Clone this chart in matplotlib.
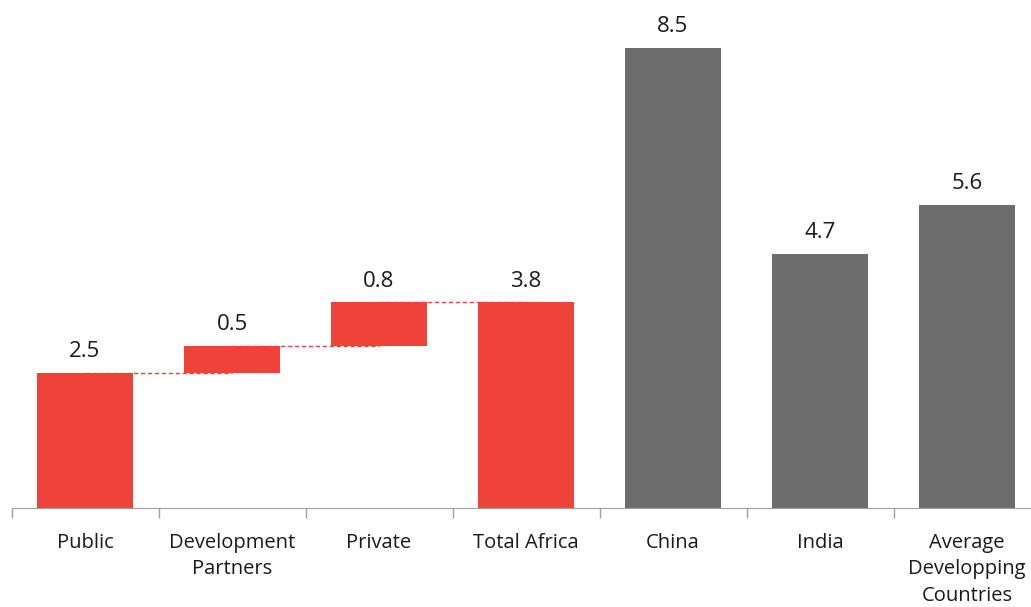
import numpy as np
import matplotlib.pyplot as plt

categories = ['Public', 'Development\nPartners', 'Private', 'Total Africa',
              'China', 'India', 'Average\nDevelopping\nCountries']
# waterfall steps for Africa, then the comparison totals
steps = [2.5, 0.5, 0.8]
total_africa = 3.8
others = [8.5, 4.7, 5.6]

red = '#EF4238'
grey = '#6D6D6D'
barWidth = 0.655

fig = plt.figure(figsize=(10.31, 6.07), dpi=100)
ax = fig.add_axes([11.5 / 1031, (607 - 508) / 607, 1029 / 1031, 508 / 607])

x = np.arange(len(categories))

# floating bars for the components
bottoms = np.concatenate([[0], np.cumsum(steps)[:-1]])
ax.bar(x[:3], steps, bottom=bottoms, width=barWidth, color=red)
ax.bar(x[3], total_africa, width=barWidth, color=red)
ax.bar(x[4:], others, width=barWidth, color=grey)

# dashed connectors between bar centres
levels = np.cumsum(steps)
for i, lvl in enumerate(levels):
    ax.plot([x[i], x[i + 1]], [lvl, lvl], color=red, lw=1, ls=(0, (3, 2)))

# value labels
tops = list(levels) + [total_africa] + others
vals = steps + [total_africa] + others
for xi, top, v in zip(x, tops, vals):
    ax.text(xi, top + 0.2, f'{v:.1f}', ha='center', va='bottom',
            fontsize=16, family='Open Sans', color='#1a1a1a')

ax.set_xlim(-0.5, len(categories) - 0.5)
ax.set_ylim(0, 9.39)
ax.set_yticks([])
ax.set_xticks(np.arange(len(categories) + 1) - 0.5, minor=False)
ax.set_xticklabels([])
ax.set_xticks(x, minor=True)
ax.set_xticklabels(categories, minor=True, fontsize=14.5, family='Open Sans',
                   linespacing=1.42, va='top', color='#1a1a1a')
ax.tick_params(axis='x', which='major', length=7, color='#A0A0A0', width=1)
ax.tick_params(axis='x', which='minor', length=0, pad=18)

for s in ['top', 'right', 'left']:
    ax.spines[s].set_visible(False)
ax.spines['bottom'].set_color('#A0A0A0')

fig.savefig('out.png', dpi=100)
